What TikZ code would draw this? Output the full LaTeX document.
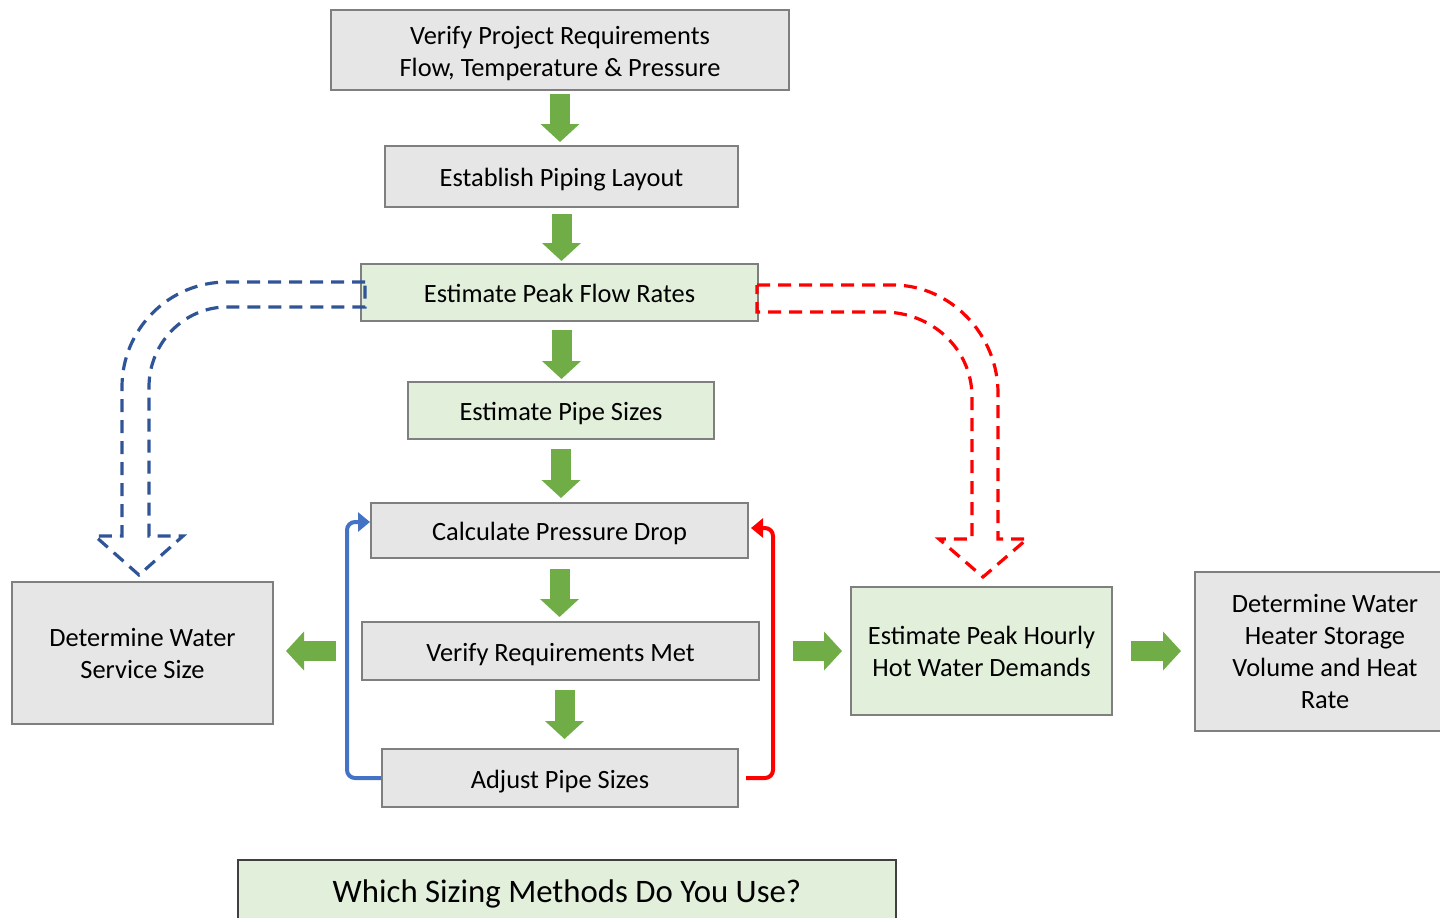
\documentclass[tikz,border=0pt]{standalone}
\usepackage{fontspec}
\setmainfont{Carlito}
\usetikzlibrary{arrows.meta}

\definecolor{boxgray}{HTML}{E7E6E6}
\definecolor{boxgreen}{HTML}{E2EFDA}
\definecolor{edgegray}{HTML}{7F7F7F}
\definecolor{flowgreen}{HTML}{70AD47}
\definecolor{fbblue}{HTML}{4472C4}
\definecolor{dashblue}{HTML}{2F5597}

\begin{document}
\begin{tikzpicture}[x=0.5pt,y=-0.5pt,
                stepbox/.style={draw=edgegray,line width=1pt,fill=boxgray,inner sep=0pt,align=center,
                        font=\fontsize{13.2}{16}\selectfont},
                greenbox/.style={stepbox,fill=boxgreen},
                onerow/.style={text height=10pt,text depth=0pt},
                flow/.style={draw=flowgreen,line width=10pt,-{Triangle[width=19pt,length=9pt]}},
                backblue/.style={draw=fbblue,line width=2pt,rounded corners=4pt,-{Triangle[width=9.5pt,length=6pt]}},
                backred/.style={draw=red,line width=2pt,rounded corners=4pt,-{Triangle[width=9.5pt,length=6pt]}},
                hollow/.style={line width=1.6pt,dash pattern=on 6.5pt off 4pt,line join=miter}]
                \useasboundingbox (0,0) rectangle (1440,917);

                \node[stepbox,text height=26pt,text depth=0pt,minimum width=229pt,minimum height=40pt] (b1) at (560,50) {Verify Project Requirements\\Flow, Temperature \& Pressure};
                \node[stepbox,onerow,minimum width=176.5pt,minimum height=30.5pt] (b2) at (561.5,176.5) {Establish Piping Layout};
                \node[greenbox,onerow,minimum width=198.5pt,minimum height=28.5pt] (b3) at (559.5,292.5) {Estimate Peak Flow Rates};
                \node[greenbox,onerow,minimum width=153pt,minimum height=28.5pt] (b4) at (561,410.5) {Estimate Pipe Sizes};
                \node[stepbox,onerow,minimum width=188.5pt,minimum height=27.5pt] (b5) at (559.5,530.5) {Calculate Pressure Drop};
                \node[stepbox,onerow,minimum width=198.5pt,minimum height=29pt] (b6) at (560.5,651) {Verify Requirements Met};
                \node[stepbox,onerow,minimum width=178pt,minimum height=29pt] (b7) at (560,778) {Adjust Pipe Sizes};
                \node[stepbox,minimum width=130.5pt,minimum height=71pt] (b8) at (142.5,653) {Determine Water\\Service Size};
                \node[greenbox,minimum width=130.5pt,minimum height=64pt] (b9) at (981.5,651) {Estimate Peak Hourly\\Hot Water Demands};
                \node[stepbox,minimum width=130pt,minimum height=79.5pt] (b10) at (1325,651.5) {Determine Water\\Heater Storage\\Volume and Heat\\Rate};
                \node[greenbox,draw=black!75,minimum width=329pt,minimum height=30pt,text height=12.5pt,text depth=0pt,
                        font=\fontsize{16.4}{19}\selectfont] (q) at (567,890) {Which Sizing Methods Do You Use?};

                \draw[flow,shorten <=1.5pt,shorten >=1.5pt] (b1.south) -- (b1.south |- b2.north);
                \draw[flow,shorten <=3pt,shorten >=1pt] (b2.south) -- (b2.south |- b3.north);
                \draw[flow,shorten <=4pt,shorten >=1pt] ([xshift=1pt]b3.south) -- ([xshift=1pt]b3.south |- b4.north);
                \draw[flow,shorten <=4.5pt,shorten >=2pt] (b4.south) -- (b4.south |- b5.north);
                \draw[flow,shorten <=5pt,shorten >=2pt] (b5.south) -- (b5.south |- b6.north);
                \draw[flow,shorten <=4.5pt,shorten >=4.5pt] ([xshift=2pt]b6.south) -- ([xshift=2pt]b6.south |- b7.north);
                \draw[flow,shorten <=12.5pt,shorten >=6pt] (b6.west) -- (b6.west -| b8.east);
                \draw[flow,shorten <=16.5pt,shorten >=4pt] (b6.east) -- (b6.east -| b9.west);
                \draw[flow,shorten <=9pt,shorten >=6.5pt] (b9.east) -- (b9.east -| b10.west);

                \draw[backblue] (b7.west) -- ++(-34,0) |- ([yshift=4.25pt]b5.west);
                \draw[backred] ([xshift=3.5pt]b7.east) -- ++(27,0) |- ([yshift=1.25pt,xshift=1pt]b5.east);

                \draw[hollow,draw=dashblue] (365,282) -- (227,282) .. controls (169,282) and (122,329) .. (122,387)
                        -- (122,536) -- (95,536) -- (139,575) -- (183,536) -- (149,536) -- (149,387)
                        .. controls (149,343) and (184,307) .. (227,307) -- (365,307) -- cycle;
                \draw[hollow,draw=red] (757,285) -- (893,285) .. controls (951,285) and (998,335) .. (998,393)
                        -- (998,539) -- (1027,539) -- (983,577) -- (939,539) -- (972,539) -- (972,397)
                        .. controls (972,349) and (932,312) .. (883,312) -- (757,312) -- cycle;
\end{tikzpicture}
\end{document}
